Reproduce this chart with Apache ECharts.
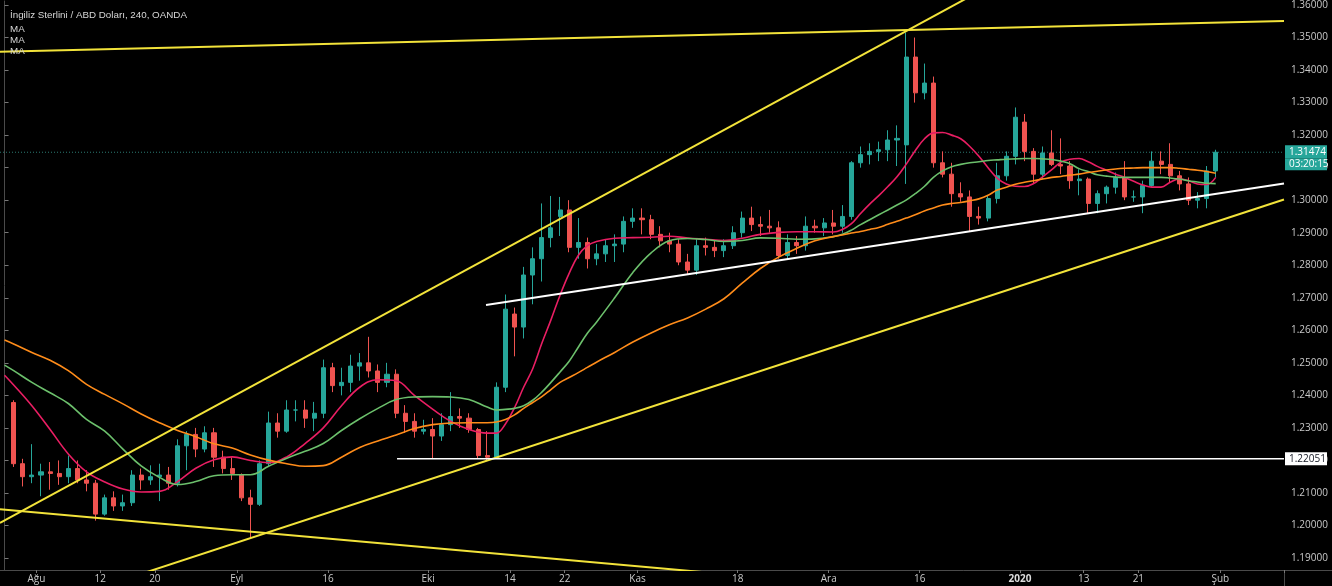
<!DOCTYPE html>
<html>
<head>
<meta charset="utf-8">
<script src="https://cdn.jsdelivr.net/npm/echarts@6.0.0/dist/echarts.min.js"></script>
<style>
html,body{margin:0;padding:0;background:#000;}
#c{width:1332px;height:586px;}
</style>
</head>
<body>
<div id="c"></div>
<script>
// ---------- categories (trading days) ----------
const padBefore = ['2019-07-26'];
const tradingDays = [
'2019-07-29','2019-07-30','2019-07-31',
'2019-08-01','2019-08-02','2019-08-05','2019-08-06','2019-08-07','2019-08-08','2019-08-09','2019-08-12','2019-08-13','2019-08-14','2019-08-15','2019-08-16','2019-08-19','2019-08-20','2019-08-21','2019-08-22','2019-08-23','2019-08-26','2019-08-27','2019-08-28','2019-08-29','2019-08-30',
'2019-09-02','2019-09-03','2019-09-04','2019-09-05','2019-09-06','2019-09-09','2019-09-10','2019-09-11','2019-09-12','2019-09-13','2019-09-16','2019-09-17','2019-09-18','2019-09-19','2019-09-20','2019-09-23','2019-09-24','2019-09-25','2019-09-26','2019-09-27','2019-09-30',
'2019-10-01','2019-10-02','2019-10-03','2019-10-04','2019-10-07','2019-10-08','2019-10-09','2019-10-10','2019-10-11','2019-10-14','2019-10-15','2019-10-16','2019-10-17','2019-10-18','2019-10-21','2019-10-22','2019-10-23','2019-10-24','2019-10-25','2019-10-28','2019-10-29','2019-10-30','2019-10-31',
'2019-11-01','2019-11-04','2019-11-05','2019-11-06','2019-11-07','2019-11-08','2019-11-11','2019-11-12','2019-11-13','2019-11-14','2019-11-15','2019-11-18','2019-11-19','2019-11-20','2019-11-21','2019-11-22','2019-11-25','2019-11-26','2019-11-27','2019-11-28','2019-11-29',
'2019-12-02','2019-12-03','2019-12-04','2019-12-05','2019-12-06','2019-12-09','2019-12-10','2019-12-11','2019-12-12','2019-12-13','2019-12-16','2019-12-17','2019-12-18','2019-12-19','2019-12-20','2019-12-23','2019-12-24','2019-12-26','2019-12-27','2019-12-30','2019-12-31',
'2020-01-02','2020-01-03','2020-01-06','2020-01-07','2020-01-08','2020-01-09','2020-01-10','2020-01-13','2020-01-14','2020-01-15','2020-01-16','2020-01-17','2020-01-20','2020-01-21','2020-01-22','2020-01-23','2020-01-24','2020-01-27','2020-01-28','2020-01-29','2020-01-30','2020-01-31'
];
const futureDays = ['2020-02-03','2020-02-04','2020-02-05','2020-02-06','2020-02-07','2020-02-10','2020-02-11'];

// ---------- OHLC (daily) ----------
const opens = [
1.2378,1.2190,1.2150,
1.2155,1.2165,1.2160,1.2150,1.2175,1.2140,1.2130,1.2035,1.2085,1.2060,1.2070,1.2155,1.2140,1.2150,1.2155,1.2130,1.2245,1.2280,1.2235,1.2285,1.2210,1.2175,
1.2155,1.2085,1.2065,1.2190,1.2315,1.2290,1.2355,1.2355,1.2330,1.2345,1.2485,1.2430,1.2440,1.2490,1.2500,1.2475,1.2440,1.2465,1.2345,1.2320,1.2290,
1.2295,1.2275,1.2310,1.2335,1.2330,1.2295,1.2215,1.2210,1.2425,1.2650,1.2610,1.2770,1.2820,1.2885,1.2950,1.2970,1.2855,1.2870,1.2820,1.2835,1.2860,1.2865,1.2935,
1.2945,1.2940,1.2895,1.2875,1.2865,1.2810,1.2785,1.2860,1.2855,1.2845,1.2860,1.2900,1.2945,1.2925,1.2920,1.2915,1.2830,1.2870,1.2860,1.2920,1.2915,
1.2930,1.2920,1.2950,1.3115,1.3140,1.3150,1.3155,1.3185,1.3170,1.3440,1.3330,1.3360,1.3115,1.3080,1.3020,1.3010,1.2950,1.2945,1.3005,1.3075,1.3135,
1.3240,1.3150,1.3080,1.3145,1.3110,1.3105,1.3060,1.3065,1.2990,1.3020,1.3040,1.3070,1.3010,1.3010,1.3045,1.3120,1.3110,1.3075,1.3050,1.3000,1.3005,1.3090
];
const highs = [
1.2385,1.2205,1.2250,
1.2190,1.2195,1.2200,1.2215,1.2200,1.2170,1.2140,1.2095,1.2105,1.2095,1.2170,1.2175,1.2185,1.2190,1.2180,1.2265,1.2290,1.2300,1.2305,1.2300,1.2230,1.2210,
1.2160,1.2110,1.2200,1.2350,1.2345,1.2385,1.2385,1.2385,1.2380,1.2510,1.2500,1.2485,1.2525,1.2530,1.2580,1.2495,1.2500,1.2480,1.2370,1.2345,1.2325,
1.2330,1.2345,1.2410,1.2360,1.2345,1.2300,1.2290,1.2440,1.2710,1.2670,1.2795,1.2855,1.2990,1.3013,1.3010,1.3000,1.2945,1.2885,1.2865,1.2880,1.2895,1.2950,1.2975,
1.2975,1.2955,1.2920,1.2900,1.2880,1.2835,1.2880,1.2885,1.2875,1.2880,1.2920,1.2965,1.2980,1.2950,1.2970,1.2935,1.2895,1.2890,1.2950,1.2940,1.2945,
1.2970,1.2985,1.3120,1.3165,1.3175,1.3180,1.3215,1.3230,1.3515,1.3500,1.3420,1.3380,1.3150,1.3115,1.3055,1.3030,1.2980,1.3015,1.3115,1.3150,1.3285,
1.3265,1.3160,1.3165,1.3215,1.3190,1.3120,1.3095,1.3070,1.3030,1.3045,1.3085,1.3120,1.3030,1.3060,1.3150,1.3150,1.3175,1.3090,1.3070,1.3025,1.3105,1.3155
];
const lows = [
1.2180,1.2120,1.2130,
1.2090,1.2110,1.2125,1.2130,1.2130,1.2105,1.2015,1.2030,1.2045,1.2045,1.2060,1.2110,1.2125,1.2075,1.2110,1.2120,1.2170,1.2210,1.2225,1.2180,1.2160,1.2140,
1.2075,1.1960,1.2060,1.2180,1.2270,1.2285,1.2320,1.2300,1.2290,1.2330,1.2410,1.2400,1.2410,1.2445,1.2455,1.2410,1.2425,1.2330,1.2285,1.2270,1.2280,
1.2205,1.2260,1.2290,1.2300,1.2285,1.2205,1.2200,1.2205,1.2410,1.2520,1.2575,1.2680,1.2750,1.2855,1.2890,1.2840,1.2820,1.2790,1.2800,1.2810,1.2810,1.2840,1.2915,
1.2895,1.2880,1.2855,1.2840,1.2800,1.2770,1.2770,1.2830,1.2825,1.2825,1.2850,1.2885,1.2905,1.2890,1.2900,1.2820,1.2820,1.2835,1.2845,1.2900,1.2890,
1.2895,1.2900,1.2940,1.3100,1.3110,1.3120,1.3120,1.3105,1.3050,1.3300,1.3310,1.3100,1.3070,1.2980,1.2995,1.2905,1.2925,1.2935,1.2990,1.3060,1.3110,
1.3120,1.3050,1.3065,1.3105,1.3080,1.3035,1.3015,1.2960,1.2960,1.2990,1.3020,1.3000,1.2995,1.2960,1.3040,1.3080,1.3055,1.3030,1.2985,1.2975,1.2975,1.3070
];
const closes = [
1.2190,1.2150,1.2155,
1.2165,1.2160,1.2150,1.2175,1.2140,1.2130,1.2035,1.2085,1.2060,1.2070,1.2155,1.2140,1.2150,1.2155,1.2130,1.2245,1.2280,1.2235,1.2285,1.2210,1.2175,1.2160,
1.2085,1.2065,1.2190,1.2315,1.2290,1.2355,1.2355,1.2330,1.2345,1.2485,1.2430,1.2440,1.2490,1.2500,1.2475,1.2440,1.2465,1.2345,1.2320,1.2290,1.2295,
1.2275,1.2310,1.2335,1.2330,1.2295,1.2215,1.2210,1.2425,1.2665,1.2610,1.2770,1.2820,1.2885,1.2915,1.2970,1.2855,1.2870,1.2820,1.2835,1.2860,1.2865,1.2935,1.2945,
1.2940,1.2895,1.2875,1.2865,1.2810,1.2785,1.2860,1.2855,1.2845,1.2860,1.2900,1.2945,1.2925,1.2920,1.2915,1.2830,1.2870,1.2860,1.2920,1.2915,1.2930,
1.2920,1.2950,1.3115,1.3140,1.3150,1.3155,1.3185,1.3190,1.3440,1.3330,1.3360,1.3115,1.3080,1.3020,1.3010,1.2950,1.2945,1.3005,1.3075,1.3135,1.3255,
1.3150,1.3080,1.3145,1.3110,1.3105,1.3060,1.3065,1.2990,1.3020,1.3040,1.3070,1.3010,1.3010,1.3045,1.3120,1.3110,1.3075,1.3050,1.3000,1.3005,1.3090,1.31474
];

// ---------- moving averages ----------
const maDates = [
'2019-07-26','2019-07-29','2019-07-31','2019-08-02','2019-08-06','2019-08-08','2019-08-12','2019-08-14','2019-08-16','2019-08-20','2019-08-22','2019-08-26','2019-08-28','2019-08-30',
'2019-09-03','2019-09-05','2019-09-09','2019-09-11','2019-09-13','2019-09-17','2019-09-19','2019-09-23','2019-09-25','2019-09-27',
'2019-10-01','2019-10-03','2019-10-07','2019-10-09','2019-10-10','2019-10-11','2019-10-14','2019-10-15','2019-10-16','2019-10-17','2019-10-18','2019-10-21','2019-10-22','2019-10-23','2019-10-24','2019-10-25','2019-10-29','2019-10-31',
'2019-11-04','2019-11-06','2019-11-08','2019-11-12','2019-11-14','2019-11-18','2019-11-20','2019-11-22','2019-11-26','2019-11-28',
'2019-12-02','2019-12-03','2019-12-04','2019-12-05','2019-12-06','2019-12-09','2019-12-10','2019-12-11','2019-12-12','2019-12-13','2019-12-16','2019-12-17','2019-12-18','2019-12-19','2019-12-20','2019-12-23','2019-12-24','2019-12-26','2019-12-27','2019-12-30','2019-12-31',
'2020-01-02','2020-01-03','2020-01-06','2020-01-07','2020-01-08','2020-01-09','2020-01-10','2020-01-13','2020-01-14','2020-01-15','2020-01-16','2020-01-17','2020-01-20','2020-01-21','2020-01-22','2020-01-23','2020-01-24','2020-01-27','2020-01-28','2020-01-29','2020-01-30','2020-01-31'
];
const maFast = [
1.2462,
1.2432,1.2368,1.2295,1.2220,1.2165,1.2134,1.2112,1.2103,1.2105,1.2135,1.2176,1.2202,1.2211,1.2200,1.2193,1.2211,1.2252,1.2300,1.2368,1.2425,1.2448,1.2445,1.2400,1.2358,1.2320,1.2295,1.2284,
1.2284,1.2312,1.2362,1.2425,1.2482,1.2560,1.2632,1.2708,1.2775,1.2830,1.2860,1.2873,
1.2883,1.2885,1.2886,1.2889,1.2884,1.2880,1.2876,1.2883,1.2895,1.2901,1.2903,1.2903,1.2902,
1.2910,1.2928,1.2959,1.2988,1.3014,1.3042,1.3072,1.3110,1.3152,1.3188,1.3207,1.3208,1.3200,1.3189,1.3165,1.3135,1.3100,1.3068,1.3050,1.3043,
1.3042,1.3051,1.3072,1.3094,1.3117,1.3126,1.3128,1.3118,1.3104,1.3092,1.3080,1.3070,1.3058,1.3047,1.3040,1.3040,1.3055,1.3065,1.3060,1.3050,1.3048,1.3070
];
const maMid = [
1.2493,
1.2476,1.2440,1.2408,1.2375,1.2326,1.2290,1.2235,1.2183,1.2148,1.2126,1.2135,1.2153,1.2156,1.2156,1.2182,1.2207,1.2228,1.2252,1.2292,1.2328,1.2360,1.2387,1.2395,1.2396,1.2395,1.2387,1.2364,
1.2355,1.2357,1.2360,1.2368,1.2385,1.2410,1.2440,1.2472,1.2505,1.2548,1.2591,1.2625,
1.2700,1.2778,1.2838,1.2875,1.2882,1.2879,1.2873,1.2876,1.2884,1.2883,1.2880,1.2881,1.2888,
1.2895,1.2908,1.2925,1.2940,1.2955,1.2970,1.2985,1.3000,1.3020,1.3042,1.3070,1.3090,1.3103,1.3110,1.3115,1.3118,1.3122,1.3124,1.3126,1.3127,
1.3128,1.3128,1.3127,1.3125,1.3120,1.3112,1.3097,1.3088,1.3078,1.3074,1.3071,1.3070,1.3070,1.3070,1.3070,1.3070,1.3068,1.3065,1.3060,1.3056,1.3052,1.3051
];
const maSlow = [
1.2570,
1.2558,1.2532,1.2508,1.2476,1.2434,1.2403,1.2374,1.2343,1.2316,1.2292,1.2273,1.2251,1.2238,1.2217,1.2201,1.2190,1.2182,1.2184,1.2210,1.2240,1.2260,1.2278,1.2298,1.2310,1.2315,1.2316,1.2316,
1.2318,1.2326,1.2340,1.2360,1.2378,1.2396,1.2418,1.2440,1.2455,1.2470,1.2486,1.2502,
1.2532,1.2564,1.2592,1.2617,1.2638,1.2665,1.2697,1.2745,1.2790,1.2825,1.2852,1.2875,1.2888,
1.2893,1.2899,1.2904,1.2910,1.2916,1.2926,1.2935,1.2945,1.2955,1.2967,1.2976,1.2985,1.2990,1.2993,1.2998,1.3004,1.3015,1.3031,1.3040,1.3049,
1.3055,1.3060,1.3065,1.3070,1.3073,1.3077,1.3080,1.3085,1.3089,1.3093,1.3096,1.3098,1.3099,1.3100,1.3100,1.3100,1.3100,1.3098,1.3095,1.3092,1.3088,1.3083
];

// ---------- drawn lines: [bar position, price] ----------
const yellowTop   = [[-0.5, 1.3456], [140.5, 1.3551]];
const yellowUpper = [[-0.5, 1.2008], [140.5, 1.4150]];
const yellowLower = [[-0.5, 1.1709], [140.5, 1.3002]];
const yellowDown  = [[-0.5, 1.2050], [140.5, 1.1697]];
const whiteTrend  = [[52.87, 1.2678], [140.5, 1.3051]];
const supportLevel = 1.22051;
const supportStart = 43.1;
const lastPrice = 1.31474;
const countdown = '03:20:15';

// ---------- axis labels ----------
const tickDates = ['2019-08-01','2019-08-12','2019-08-20','2019-09-02','2019-09-16','2019-10-01','2019-10-14','2019-10-22','2019-11-01','2019-11-18','2019-12-02','2019-12-16','2020-01-02','2020-01-13','2020-01-21','2020-02-03'];
const tickTexts = ['Ağu','12','20','Eyl','16','Eki','14','22','Kas','18','Ara','16','2020','13','21','Şub'];
const priceTicks = [1.19,1.20,1.21,1.22,1.23,1.24,1.25,1.26,1.27,1.28,1.29,1.30,1.31,1.32,1.33,1.34,1.35,1.36];
const titleText = 'İngiliz Sterlini / ABD Doları, 240, OANDA';
const maLabels = ['MA','MA','MA'];

// ---------- build ----------
const categories = padBefore.concat(tradingDays, futureDays);
const nCat = categories.length;
const candleData = categories.map(d => {
  const k = tradingDays.indexOf(d);
  return k < 0 ? '-' : [opens[k], closes[k], lows[k], highs[k]];
});
const maSeries = (vals) => maDates.map((d, i) => [d, vals[i]]);
const tickMap = {};
tickDates.forEach((d, i) => tickMap[d] = tickTexts[i]);

const AX = '#4a4a4a';
const TXT = '#c9c9c9';
const FONT = 'Open Sans';

function trend(data, color, width) {
  return {
    type: 'line', xAxisIndex: 1, yAxisIndex: 0, data: data,
    symbol: 'none', silent: true, clip: true, z: 4,
    lineStyle: { color: color, width: width }
  };
}

const chart = echarts.init(document.getElementById('c'));
chart.setOption({
  animation: false,
  backgroundColor: '#000000',
  textStyle: { fontFamily: FONT },
  title: {
    left: 10, top: 7, padding: 0, z: 10,
    text: '{h|' + titleText + '}\n' + maLabels.map(m => '{m|' + m + '}').join('\n'),
    textStyle: {
      color: '#d6d6d6', fontWeight: 'normal', fontFamily: 'Liberation Sans',
      rich: {
        h: { fontSize: 9.8, lineHeight: 17, color: '#d6d6d6', fontFamily: 'Liberation Sans' },
        m: { fontSize: 9.8, lineHeight: 11, color: '#d6d6d6', fontFamily: 'Liberation Sans' }
      }
    }
  },
  grid: { left: 0, right: 48, top: 0, bottom: 16, containLabel: false },
  xAxis: [
    {
      type: 'category', data: categories, boundaryGap: true,
      axisLine: { show: true, lineStyle: { color: AX } },
      axisTick: { show: true, length: 3, interval: (i, v) => v in tickMap, lineStyle: { color: '#777' } },
      axisLabel: {
        interval: (i, v) => v in tickMap,
        formatter: v => v === '2020-01-02' ? '{b|' + tickMap[v] + '}' : tickMap[v],
        color: TXT, fontSize: 10, margin: 4, padding: [0, 9, 0, 0],
        rich: { b: { fontWeight: 'bold', color: '#dcdcdc', fontSize: 10 } }
      },
      splitLine: { show: false }
    },
    { type: 'value', min: -0.5, max: nCat - 0.5, show: false }
  ],
  yAxis: {
    type: 'value', position: 'right', min: 1.18632, max: 1.36123,
    axisLine: { show: true, lineStyle: { color: AX } },
    axisTick: { show: true, length: 4, customValues: priceTicks, lineStyle: { color: '#777' } },
    axisLabel: { customValues: priceTicks, formatter: v => v.toFixed(5), color: TXT, fontSize: 10, margin: 7 },
    splitLine: { show: false }
  },
  graphic: [
    { type: 'line', shape: { x1: 1284.5, y1: 570, x2: 1284.5, y2: 586 }, style: { stroke: AX, lineWidth: 1 }, silent: true },
    { type: 'line', shape: { x1: 1284, y1: 570.5, x2: 1332, y2: 570.5 }, style: { stroke: AX, lineWidth: 1 }, silent: true }
  ],
  series: [
    {
      type: 'candlestick', xAxisIndex: 0, yAxisIndex: 0, data: candleData,
      barWidth: '50%', z: 2,
      itemStyle: { color: '#26a69a', color0: '#ef5350', borderColor: '#26a69a', borderColor0: '#ef5350', borderWidth: 1 }
    },
    { type: 'line', xAxisIndex: 0, data: maSeries(maFast), smooth: 0.4, symbol: 'none', z: 3, silent: true, lineStyle: { color: '#e91e63', width: 1.6 } },
    { type: 'line', xAxisIndex: 0, data: maSeries(maMid), smooth: 0.4, symbol: 'none', z: 3, silent: true, lineStyle: { color: '#6cc06c', width: 1.6 } },
    { type: 'line', xAxisIndex: 0, data: maSeries(maSlow), smooth: 0.4, symbol: 'none', z: 3, silent: true, lineStyle: { color: '#ff8c1a', width: 1.6 } },
    trend(yellowTop, '#f2e33a', 2),
    trend(yellowUpper, '#f2e33a', 2),
    trend(yellowLower, '#f2e33a', 2),
    trend(yellowDown, '#f2e33a', 2),
    trend(whiteTrend, '#ffffff', 2),
    {
      type: 'line', xAxisIndex: 1, yAxisIndex: 0, symbol: 'none', silent: true, z: 4,
      data: [[supportStart, supportLevel], [nCat - 0.5, supportLevel]],
      lineStyle: { color: '#ffffff', width: 1.5 },
      endLabel: {
        show: true, distance: 1,
        formatter: () => supportLevel.toFixed(5),
        backgroundColor: '#ffffff', color: '#131722', fontSize: 10, padding: [2, 4, 1, 4], width: 34, align: 'left'
      }
    },
    {
      type: 'line', xAxisIndex: 1, yAxisIndex: 0, symbol: 'none', silent: true, z: 1,
      data: [[-0.5, lastPrice], [nCat - 0.5, lastPrice]],
      lineStyle: { color: '#2c7a72', width: 1, type: [1, 2] },
      endLabel: {
        show: true, distance: 1,
        formatter: () => '{p|' + lastPrice.toFixed(5) + '}\n{t|' + countdown + '}',
        verticalAlign: 'top', offset: [0, -7],
        rich: {
          p: { backgroundColor: '#26a69a', color: '#ffffff', fontSize: 10, width: 34, padding: [2, 4, 1, 4], lineHeight: 13 },
          t: { backgroundColor: '#26a69a', color: '#ffffff', fontSize: 10, width: 34, padding: [1, 4, 1, 4], lineHeight: 12 }
        }
      }
    }
  ]
});
</script>
</body>
</html>
